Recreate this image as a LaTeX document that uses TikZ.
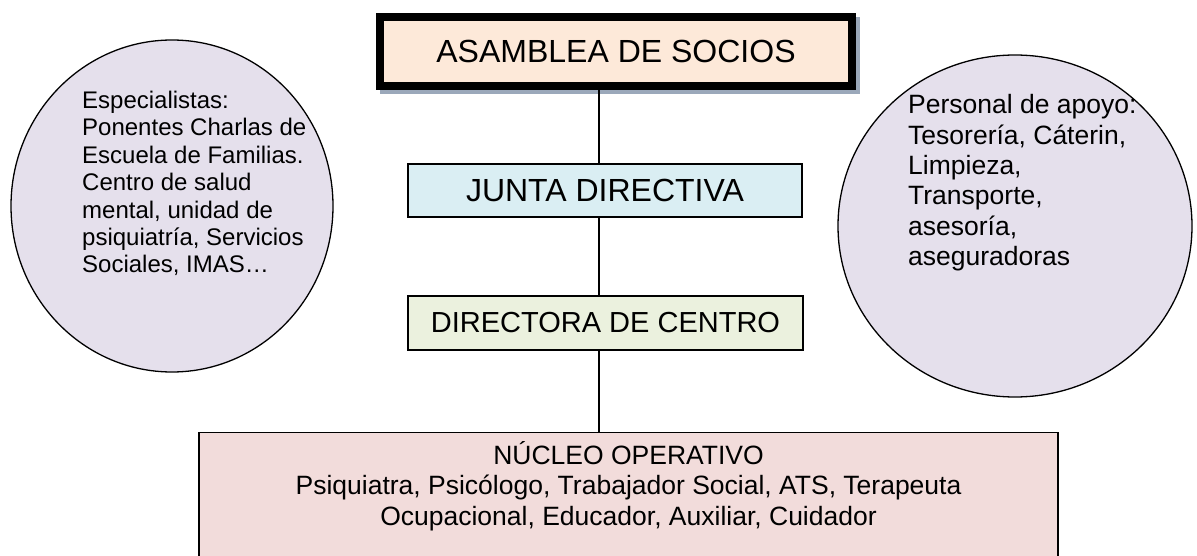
\documentclass[tikz,border=0pt]{standalone}
\usepackage{fontspec}
\setmainfont{Liberation Sans}
\usetikzlibrary{shapes.geometric}
\definecolor{melocoton}{HTML}{FDE9D9}
\definecolor{celeste}{HTML}{DAEEF3}
\definecolor{verdoso}{HTML}{EBF1DE}
\definecolor{rosado}{HTML}{F2DCDB}
\definecolor{lila}{HTML}{E5E0EC}
\definecolor{sombra}{RGB}{155,168,186}
\begin{document}
\begin{tikzpicture}[x=1pt, y=-1pt,
            caja/.style={rectangle, draw, line width=1.6pt, inner sep=0, font=\fontsize{32}{36.8}\selectfont},
            globo/.style={ellipse, draw, line width=1.3pt, fill=lila, inner sep=0},
            texto/.style={align=left, inner sep=0, anchor=north west},
            conector/.style={line width=1.3pt},
        ]
        \useasboundingbox (0,0) rectangle (1197,556);
        % circulos laterales
        \node[globo, minimum width=322pt, minimum height=332pt] (especialistas) at (172,206) {};
        \node[globo, minimum width=354pt, minimum height=342pt] (apoyo) at (1015,226) {};
        \node[texto, font=\fontsize{24}{27.4}\selectfont] (esptxt) at (82,91) {Especialistas:\\Ponentes Charlas de\\Escuela de Familias.\\Centro de salud\\mental, unidad de\\psiquiatría, Servicios\\Sociales, IMAS…};
        \node[texto, font=\fontsize{26.5}{30.3}\selectfont] (apoyotxt) at (908,94.5) {Personal de apoyo:\\Tesorería, Cáterin,\\Limpieza,\\Transporte,\\asesoría,\\aseguradoras};
        % organigrama
        \node[caja, line width=8pt, fill=melocoton, minimum width=472pt, minimum height=69pt,
            preaction={draw=sombra, fill=sombra, line width=8pt, transform canvas={shift={(4pt,-4pt)}}}] (asamblea) at (616,51.5) {ASAMBLEA DE SOCIOS};
        \node[caja, fill=celeste, minimum width=394.5pt, minimum height=53.5pt] (junta) at (605,190.5) {JUNTA DIRECTIVA};
        \node[caja, fill=verdoso, minimum width=394.5pt, minimum height=54.5pt, font=\fontsize{29}{33}\selectfont] (directora) at (605.5,323) {DIRECTORA DE CENTRO};
        \node[caja, fill=rosado, minimum width=859.5pt, minimum height=200pt, anchor=north] (nucleo) at (628.5,431.75) {};
        \node[align=center, inner sep=0, font=\fontsize{26.5}{30.5}\selectfont] (nucleotxt) at (628.5,486) {NÚCLEO OPERATIVO\\Psiquiatra, Psicólogo, Trabajador Social, ATS, Terapeuta\\Ocupacional, Educador, Auxiliar, Cuidador};
        \coordinate (eje) at (599,0);
        \draw[conector] (asamblea.south -| eje) -- (junta.north -| eje);
        \draw[conector] (junta.south -| eje) -- (directora.north -| eje);
        \draw[conector] (directora.south -| eje) -- (nucleo.north -| eje);
    \end{tikzpicture}
\end{document}
